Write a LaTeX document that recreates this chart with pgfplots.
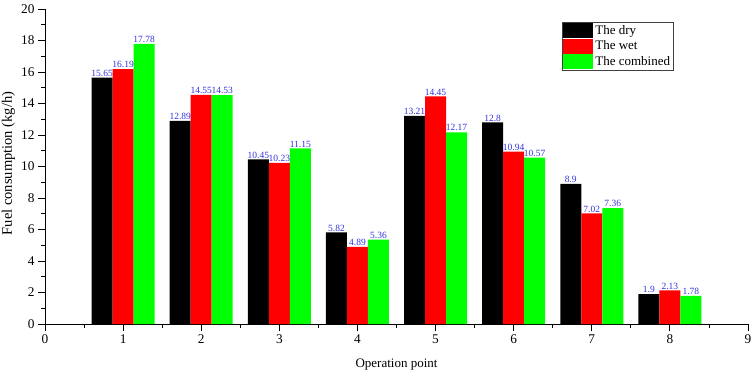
\documentclass[border=0pt]{standalone}
\usepackage{pgfplots}
\pgfplotsset{compat=1.18}
\usepackage{fontspec}
\setmainfont{Liberation Serif}
\definecolor{valblue}{RGB}{50,50,220}
\definecolor{wetred}{RGB}{255,0,0}
\definecolor{combgreen}{RGB}{0,255,0}
\pgfplotsset{legbar/.style={legend image code/.code={\fill[##1] (0bp,-7.5bp) rectangle (30bp,7.5bp);}}}
\begin{document}
\begin{tikzpicture}
\path[use as bounding box] (-45bp,-54bp) rectangle (708bp,324bp);
\begin{axis}[
  at={(0,0)}, anchor=south west,
  scale only axis, width=703bp, height=315bp,
  xmin=0, xmax=9, ymin=0, ymax=20,
  axis x line=bottom, axis y line=left,
  axis line style={-, line width=0.8bp},
  xtick={0,...,9}, ytick={0,2,...,20},
  minor x tick num=1, minor y tick num=1,
  tick align=outside,
  major tick length=7bp, minor tick length=4bp,
  tick style={line width=0.8bp, black},
  /pgf/number format/assume math mode=true,
  ticklabel style={font=\fontsize{13.3bp}{15bp}\selectfont},
  xlabel={Operation point},
  ylabel={Fuel consumption (kg/h)},
  xlabel style={font=\fontsize{13bp}{15bp}\selectfont, at={(axis description cs:0.5,-0.130)}, anchor=center},
  ylabel style={font=\fontsize{14.5bp}{16bp}\selectfont, at={(axis description cs:-0.0519,0.5095)}, anchor=center},
  ybar=0pt, bar width=21bp,
  nodes near coords,
  every node near coord/.append style={font=\fontsize{9.5bp}{10bp}\selectfont, text=valblue, inner sep=1bp},
  every axis plot post/.append style={legbar},
  legend style={at={(rel axis cs:0.7354,0.9597)}, anchor=north west,
    draw=darkgray, line width=0.8bp, inner sep=1bp, row sep=0.5bp,
    font=\fontsize{13bp}{15bp}\selectfont,
    /tikz/every even column/.append style={column sep=3bp}},
  legend cell align=left,
]
\addplot[fill=black, draw=none] coordinates {(1,15.65) (2,12.89) (3,10.45) (4,5.82) (5,13.21) (6,12.8) (7,8.9) (8,1.9)};
\addplot[fill=wetred, draw=none] coordinates {(1,16.19) (2,14.55) (3,10.23) (4,4.89) (5,14.45) (6,10.94) (7,7.02) (8,2.13)};
\addplot[fill=combgreen, draw=none] coordinates {(1,17.78) (2,14.53) (3,11.15) (4,5.36) (5,12.17) (6,10.57) (7,7.36) (8,1.78)};
\legend{The dry, The wet, The combined}
\end{axis}
\end{tikzpicture}
\end{document}
